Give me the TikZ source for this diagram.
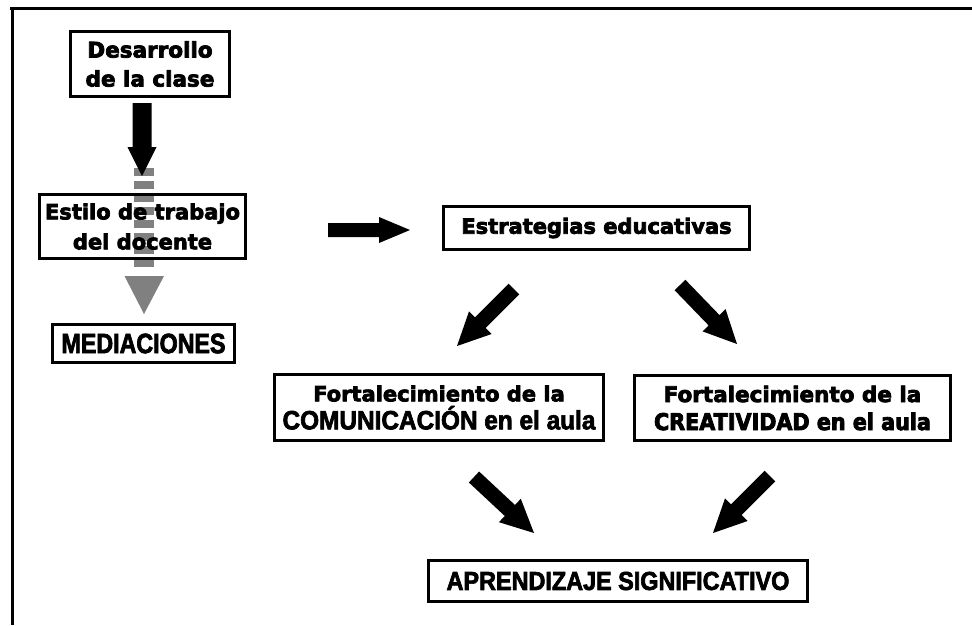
\documentclass[tikz,border=0pt]{standalone}
\usepackage{fontspec}
\usetikzlibrary{calc}
\newfontfamily\wfont[BoldFeatures={FakeBold=3.5}]{DejaVu Sans}
\newfontfamily\nfont[BoldFeatures={FakeBold=2.5}]{Liberation Sans}
\definecolor{grayarr}{RGB}{128,128,128}
% #1 tail, #2 tip, #3 half shaft width, #4 half head width, #5 head length, #6 colour
\newcommand\blkarrow[6]{%
  \coordinate (ba-h) at ($(#2)!#5!(#1)$);
  \fill[#6] ($(#1)!#3!90:(#2)$) -- ($(ba-h)!#3!90:(#2)$) -- ($(ba-h)!#4!90:(#2)$) -- (#2)
    -- ($(ba-h)!#4!-90:(#2)$) -- ($(ba-h)!#3!-90:(#2)$) -- ($(#1)!#3!-90:(#2)$) -- cycle;
}
\tikzset{
  box/.style={draw=black, line width=3pt, inner sep=0pt, align=center, text=black},
  widefont/.style={font=\wfont\bfseries\fontsize{21}{29}\selectfont},
}
\begin{document}
\begin{tikzpicture}[x=1pt,y=-1pt]
\useasboundingbox (0,0) rectangle (972,625);
\fill[white] (0,0) rectangle (972,625);
% frame
\coordinate (fr1) at (10,8);
\coordinate (fr2) at (972,8);
\coordinate (fl1) at (12,6.5);
\coordinate (fl2) at (12,625);
\draw[line width=3pt] (fr1) -- (fr2);
\draw[line width=3pt] (fl1) -- (fl2);

% boxes
\node[box, minimum width=159pt, minimum height=65pt,
      font=\wfont\bfseries\fontsize{21.5}{29}\selectfont] (des) at (150,64) {Desarrollo\\de la clase};

% gray dashed arrow (behind the Estilo box)
\coordinate (g1) at (144,168);
\coordinate (g2) at (144,268);
\draw[grayarr, line width=20pt, dash pattern=on 8pt off 5pt] (g1) -- (g2);
\coordinate (gh1) at (124.5,276);
\coordinate (gh2) at (164,276);
\coordinate (gh3) at (144,314);
\fill[grayarr] (gh1) -- (gh2) -- (gh3) -- cycle;

\node[box, minimum width=206pt, minimum height=64pt,
      font=\wfont\bfseries\fontsize{21}{30}\selectfont] (estilo) at (142.5,226.5) {Estilo de trabajo\\del docente};

\node[box, minimum width=182pt, minimum height=38pt,
      font=\nfont\bfseries\fontsize{28}{30}\selectfont\addfontfeature{FakeStretch=0.83}] (med) at (143.5,343.5) {MEDIACIONES};

\node[box, widefont, minimum width=306pt, minimum height=43pt] (estr) at (596.5,228) {Estrategias educativas};

\node[box, minimum width=329pt, minimum height=66pt, font=\fontsize{21}{28}\selectfont] (com) at (439,407.5)
  {{\wfont\bfseries\fontsize{21}{28}\selectfont Fortalecimiento de la}\\
   {\nfont\bfseries\fontsize{26.5}{28}\selectfont\addfontfeature{FakeStretch=0.92}COMUNICACIÓN en el aula}};

\node[box, minimum width=316pt, minimum height=65pt, font=\fontsize{21}{28}\selectfont] (cre) at (792.5,408)
  {{\wfont\bfseries\fontsize{21.5}{28}\selectfont Fortalecimiento de la}\\
   {\wfont\bfseries\fontsize{23}{28}\selectfont\addfontfeature{FakeStretch=0.9}CREATIVIDAD en el aula}};

\node[box, minimum width=379pt, minimum height=41pt,
      font=\nfont\bfseries\fontsize{26}{28}\selectfont\addfontfeature{FakeStretch=0.9}] (apr) at (618,581) {APRENDIZAJE SIGNIFICATIVO};

% block arrows
\coordinate (a1s) at (142,103);
\coordinate (a1e) at (142,176);
\blkarrow{a1s}{a1e}{9.5pt}{14.5pt}{29pt}{black}

\coordinate (a2s) at (328,230);
\coordinate (a2e) at (410,230);
\blkarrow{a2s}{a2e}{7pt}{13pt}{31pt}{black}

\coordinate (d1s) at (514,289);
\coordinate (d1e) at (457,346);
\blkarrow{d1s}{d1e}{7.5pt}{16pt}{33pt}{black}

\coordinate (d2s) at (680,285);
\coordinate (d2e) at (737,344);
\blkarrow{d2s}{d2e}{7.5pt}{16pt}{33pt}{black}

\coordinate (d3s) at (474,477);
\coordinate (d3e) at (534,533);
\blkarrow{d3s}{d3e}{7.5pt}{16pt}{33pt}{black}

\coordinate (d4s) at (770,476);
\coordinate (d4e) at (713,533);
\blkarrow{d4s}{d4e}{7.5pt}{16pt}{33pt}{black}
\end{tikzpicture}
\end{document}
